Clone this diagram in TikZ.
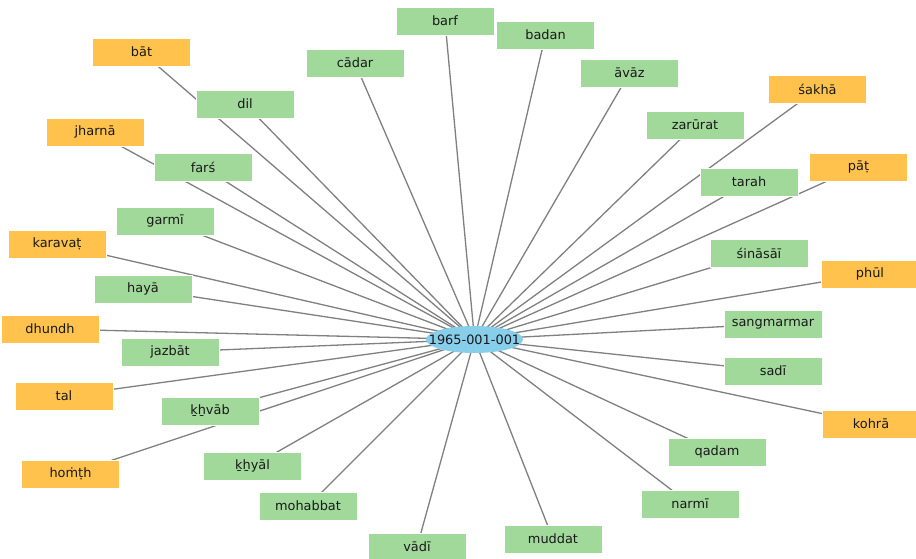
\documentclass[tikz,border=0pt]{standalone}
\usepackage{fontspec}
\setmainfont{DejaVu Sans}
\usetikzlibrary{backgrounds,shapes.geometric}
\definecolor{gbox}{HTML}{A1D99B}
\definecolor{obox}{HTML}{FEC24D}
\definecolor{cblue}{HTML}{87CEEB}
\definecolor{edgec}{HTML}{808080}
\tikzset{
  base/.style={rectangle, minimum width=98pt, minimum height=28pt, inner sep=0pt, draw=white, line width=0.6pt, font=\fontsize{12.9}{15}\selectfont, text=black!90},
  gnode/.style={base, fill=gbox},
  onode/.style={base, fill=obox},
  cnode/.style={ellipse, fill=cblue, minimum width=97pt, minimum height=27pt, inner xsep=-12pt, inner ysep=0pt, font=\fontsize{12.9}{15}\selectfont, text=black!90},
  link/.style={draw=edgec, line width=1.3pt}
}
\begin{document}
\begin{tikzpicture}[x=1pt,y=-1pt]
\useasboundingbox (0,0) rectangle (916,559);
\node[cnode] (c) at (474.5,339.5) {1965-001-001};
\node[gnode] (barf) at (445,21) {barf};
\node[gnode] (badan) at (545.5,35) {badan};
\node[gnode] (avaz) at (629.5,73) {āvāz};
\node[onode] (sakha) at (817.5,89) {śakhā};
\node[gnode] (zarurat) at (695,125) {zarūrat};
\node[gnode] (tarah) at (749,182) {tarah};
\node[onode] (pat) at (858.5,167) {pāṭ};
\node[gnode] (sinasai) at (759,253) {śināsāī};
\node[onode] (phul) at (870,274) {phūl};
\node[gnode] (sangmarmar) at (773,324) {sangmarmar};
\node[gnode] (sadi) at (773,371) {sadī};
\node[onode] (kohra) at (871,424) {kohrā};
\node[gnode] (qadam) at (717,452) {qadam};
\node[gnode] (narmi) at (690,504) {narmī};
\node[gnode] (muddat) at (553,539) {muddat};
\node[gnode] (vadi) at (417,547) {vādī};
\node[gnode] (mohabbat) at (308,506) {mohabbat};
\node[gnode] (khyal) at (252.5,466) {ḵẖyāl};
\node[gnode] (khvab) at (210,411) {ḵẖvāb};
\node[onode] (homth) at (70.5,474) {hoṁṭh};
\node[onode] (tal) at (64,396) {tal};
\node[gnode] (jazbat) at (170,352) {jazbāt};
\node[onode] (dhundh) at (50,329) {dhundh};
\node[gnode] (haya) at (143,289) {hayā};
\node[onode] (karavat) at (57,244) {karavaṭ};
\node[gnode] (garmi) at (165,221) {garmī};
\node[onode] (jharna) at (95,132) {jharnā};
\node[gnode] (fars) at (203,167) {farś};
\node[onode] (bat) at (141.5,52) {bāt};
\node[gnode] (dil) at (245,104) {dil};
\node[gnode] (cadar) at (355,63) {cādar};
\begin{scope}[on background layer]
\fill[white] (0,0) rectangle (916,559);
\foreach \t in {barf,badan,avaz,sakha,zarurat,tarah,pat,sinasai,phul,sangmarmar,sadi,kohra,qadam,narmi,muddat,vadi,mohabbat,khyal,khvab,homth,tal,jazbat,dhundh,haya,karavat,garmi,jharna,fars,bat,dil,cadar}
  \draw[link] (c.center) -- (\t.center);
\end{scope}
\end{tikzpicture}
\end{document}
